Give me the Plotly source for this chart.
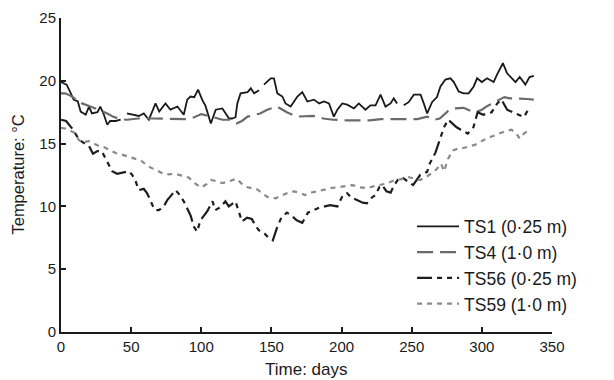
import plotly.graph_objects as go

# ---- data ----
ts1_days = [0, 2, 4, 7, 9, 12, 14, 17.6, 20, 22, 26, 28, 30.6, 33, 35, 39, 42.5, 44.5, 47, 51, 55.5, 59, 62.6,
            67.4, 70, 74.5, 78, 83, 87.5, 90, 92.3, 95, 97.7, 100.6, 103, 106.8, 110.3, 115, 117.4, 119.8,
            122, 124.4, 125.7, 128, 133, 135.3, 137.6, 141.2, 143, 144.7, 149.5, 151.8, 154.2, 157.8, 160,
            163.7, 168.5, 172, 175.6, 180.3, 184, 187.4, 191, 194.5, 197, 200.5, 204, 208.8, 212.3, 217,
            220.6, 224.2, 227.8, 231.3, 234.9, 237.2, 239.6, 242, 244.3, 247.8, 251.5, 256.3, 258.6, 261,
            264.5, 268, 270.5, 274, 277.6, 280, 283.5, 287, 290.6, 294.2, 296.6, 300, 303.7, 308.4, 310.8,
            315, 318, 320.3, 324, 327, 331, 334, 337]
ts1_vals = [19.9, 19.8, 19.7, 19.0, 18.5, 18.35, 17.55, 17.3, 17.95, 17.4, 17.5, 17.95, 17.3, 16.5, 16.8, 16.8,
            16.9, None, 17.4, 17.3, 17.2, 17.4, 16.9, 18.2, 17.55, 18.2, 17.7, 17.95, 17.3, 18.5, 18.75, 18.7,
            19.3, 18.5, 18.0, 16.6, 17.7, 17.8, 17.4, 17.0, 17.0, 17.1, 18.2, 19.0, 19.1, 19.4, 19.0, 19.25,
            None, 19.7, 20.2, 20.2, 19.0, 18.75, 18.2, 17.95, 18.75, 19.1, 18.35, 18.5, 18.2, 18.35, 18.2,
            17.15, 17.7, 18.2, 18.1, 17.8, 18.2, 17.7, 18.05, 18.05, 18.9, 17.95, 18.2, 18.6, 18.2, None,
            18.05, 18.3, 18.9, 18.9, 18.2, 17.4, 18.3, 18.7, 19.55, 20.1, 20.2, 19.9, 19.15, 19.0, 19.0,
            19.55, 20.2, 19.9, 20.2, 19.9, 20.5, 21.4, 20.6, 20.3, 19.9, 20.3, 19.7, 20.3, 20.4]

ts4_days = [0, 3, 7, 11, 15, 20, 27, 33, 37, 42, 47, 55, 65, 75, 85, 90, 95, 100, 107, 115, 120, 125, 129,
            133, 142, 147, 154, 161, 168, 180, 187, 194, 204, 212, 220, 228, 237, 244, 254, 261, 266, 270,
            276, 280, 287, 292, 296, 300, 304, 310, 316, 320, 326, 332, 337]
ts4_vals = [19.0, 19.0, 18.8, 18.5, 18.2, 18.0, 17.7, 17.4, 17.15, 16.95, 16.9, 17.0, 17.0, 17.0, 16.95,
            16.95, 17.1, 17.35, 17.15, 16.9, 16.9, 16.6, 16.8, 17.15, 17.4, 17.7, 17.95, 17.5, 17.15, 17.2,
            17.0, 16.9, 16.85, 16.85, 16.85, 16.95, 16.95, 16.95, 16.95, 17.15, 16.9, 17.0, 17.6, 17.8,
            17.85, 17.6, 17.5, 17.7, 18.0, 18.35, 18.7, 18.6, 18.6, 18.55, 18.5]

ts56_days = [0, 3.6, 8, 13, 17, 20, 22.8, 26, 29, 32, 34, 36.5, 40, 44, 48.4, 50.8, 53.2, 55.5, 59, 61.4,
             63.8, 66, 67.4, 69.8, 73.3, 75.7, 78, 81.6, 84, 87.5, 89.9, 92.3, 94.7, 97, 99.4, 102, 104.2,
             106.5, 108, 110, 113, 117.2, 119.6, 124.4, 126.7, 129, 132.6, 136, 138, 141, 145, 148, 151,
             154, 157, 161, 164, 168, 172, 176, 180, 184, 188, 192, 197, 201, 204, 207, 211, 215, 218, 221,
             224, 227, 229, 232, 235, 237, 240, 244, 247, 251, 256, 261, 263, 267, 270, 273, 276, 278, 282,
             285, 290, 294, 297, 301, 304, 307, 311, 314, 318, 322, 325, 330, 334]
ts56_vals = [16.9, 16.8, 16.2, 15.3, 15.0, 14.8, 14.2, 14.4, 14.4, 13.8, 13.4, 12.8, 12.6, 12.7, 12.8, 12.5,
             12.0, 11.3, 11.4, 11.05, 10.4, 9.9, 9.7, 9.7, 10.0, 10.5, 10.8, 11.3, 11.0, 10.4, 9.85, 9.3, 8.4,
             7.98, 8.9, 9.3, 9.6, 10.1, 10.4, 9.7, 9.9, 10.4, 10.0, 10.4, 9.6, 8.8, 9.1, 9.0, 8.6, 8.1, 7.85,
             7.5, 7.3, 8.3, 9.1, 9.5, 9.3, 8.9, 8.7, 9.5, 9.7, 9.9, 10.0, 10.1, 10.0, 10.9, 11.05, 10.7, 10.5,
             10.3, 10.25, 10.65, 10.9, 11.55, 11.7, 11.2, 11.1, 11.6, 12.1, 12.25, 12.0, 11.7, 12.5, 12.75,
             13.45, 14.3, 15.3, 16.3, 16.9, 16.7, 16.3, 16.1, 15.8, 16.3, 17.5, 17.3, 17.4, 17.5, 18.2, 18.5,
             17.7, 17.5, 17.4, 17.1, 17.9]

ts59_days = [0, 3, 7, 10, 12.6, 15, 20, 24, 28, 31, 35, 39, 44, 48, 53, 57, 62, 67, 73, 77, 81, 86, 91, 96,
             100, 104, 107, 111, 115, 120, 125, 129, 132, 136, 140, 144, 147, 150, 153, 157, 162, 166, 170,
             174, 178, 183, 188, 192, 199, 204, 208, 211, 218, 223, 228, 233, 238, 242, 247, 252, 256, 261,
             265, 268, 271, 273, 276, 279, 283, 287, 291, 295, 300, 304, 308, 313, 317, 321, 324, 327, 330, 334]
ts59_vals = [16.25, 16.2, 16.0, 15.85, 15.3, 15.1, 15.2, 15.0, 14.75, 14.7, 14.5, 14.25, 14.1, 13.95, 13.8,
             13.65, 13.2, 12.9, 12.6, 12.55, 12.6, 12.45, 12.3, 11.8, 11.5, 11.8, 12.1, 12.0, 11.85, 12.0,
             12.2, 11.8, 11.55, 11.45, 11.35, 11.0, 10.75, 10.7, 10.65, 10.85, 11.1, 11.2, 11.1, 10.9, 11.1,
             11.2, 11.35, 11.45, 11.55, 11.65, 11.7, 11.55, 11.45, 11.6, 11.7, 11.85, 12.1, 12.15, 12.35,
             12.2, 12.1, 12.4, 12.7, 13.0, 13.4, 12.8, 13.8, 14.45, 14.6, 14.65, 14.8, 14.9, 15.2, 15.45,
             15.6, 15.85, 16.0, 16.1, 15.9, 15.4, 15.8, 16.1]

series_names = ["TS1 (0·25 m)", "TS4 (1·0 m)", "TS56 (0·25 m)", "TS59 (1·0 m)"]
x_ticks = [0, 50, 100, 150, 200, 250, 300, 350]
y_ticks = [0, 5, 10, 15, 20, 25]
x_title = "Time: days"
y_title = "Temperature: °C"

FONT = "Liberation Sans, Arial, sans-serif"
TXT = "#1a1a1a"

fig = go.Figure()
fig.add_trace(go.Scatter(x=ts1_days, y=ts1_vals, name=series_names[0], mode="lines",
                         line=dict(color="#1a1a1a", width=1.8), connectgaps=False))
fig.add_trace(go.Scatter(x=ts4_days, y=ts4_vals, name=series_names[1], mode="lines",
                         line=dict(color="#6a6a6a", width=2.2, dash="16px,7px")))
fig.add_trace(go.Scatter(x=ts56_days, y=ts56_vals, name=series_names[2], mode="lines",
                         line=dict(color="#1e1e1e", width=2.2, dash="15px,5px,5px,5px,5px,5px")))
fig.add_trace(go.Scatter(x=ts59_days, y=ts59_vals, name=series_names[3], mode="lines",
                         line=dict(color="#8a8a8a", width=2.2, dash="5px,5px")))

# page body has an 8px margin: figure is sized so the plot area lands where the reference has it
fig.update_layout(
    width=606, height=372,
    margin=dict(l=53, r=62, t=10, b=48, autoexpand=False),
    paper_bgcolor="white", plot_bgcolor="white",
    font=dict(family=FONT, size=15, color=TXT),
    showlegend=True,
    legend=dict(x=0.715, y=0.393, xanchor="left", yanchor="top",
                bgcolor="rgba(0,0,0,0)", font=dict(size=17.5, color=TXT),
                itemwidth=42, tracegroupgap=0),
    annotations=[
        dict(text=y_title, xref="paper", yref="paper", x=-0.0885, y=0.5,
             xanchor="center", yanchor="middle", textangle=-90, showarrow=False,
             font=dict(size=16.5, color=TXT)),
        dict(text=x_title, xref="paper", yref="paper", x=0.5, y=-0.121,
             xanchor="center", yanchor="middle", showarrow=False,
             font=dict(size=17, color=TXT)),
    ],
)
fig.update_xaxes(range=[0, 350], tickvals=x_ticks, showgrid=False, zeroline=False,
                 showline=True, linecolor="#1a1a1a", linewidth=2,
                 ticks="inside", ticklen=5, tickwidth=1.5, tickcolor="#1a1a1a",
                 tickfont=dict(size=15), automargin=False)
fig.update_yaxes(range=[0, 25], tickvals=y_ticks, showgrid=False, zeroline=False,
                 showline=True, linecolor="#1a1a1a", linewidth=2,
                 ticks="inside", ticklen=5, tickwidth=1.5, tickcolor="#1a1a1a",
                 tickfont=dict(size=15), automargin=False)

fig.write_html("out.html")
